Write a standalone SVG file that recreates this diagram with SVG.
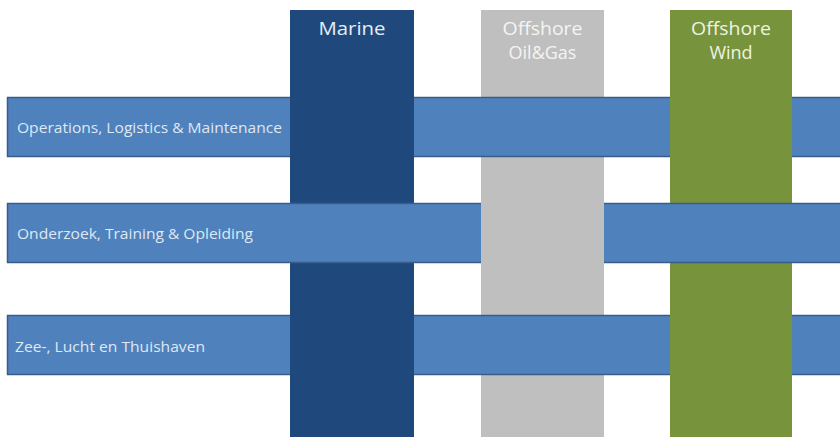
<svg xmlns="http://www.w3.org/2000/svg" width="840" height="437" viewBox="0 0 840 437">
<style>
.marine{fill:#1f497d}
.oil{fill:#bfbfbf}
.wind{fill:#77933c}
.bar{fill:#4f81bd;stroke:#385d8a;stroke-width:1.5}
.head{font-family:"Open Sans","Liberation Sans",sans-serif;font-size:18px;fill:#e6edf6;text-anchor:middle}
.lbl{font-family:"Open Sans","Liberation Sans",sans-serif;font-size:15px;fill:#dfe8f3}
</style>
<rect width="840" height="437" fill="#ffffff"/>
<g id="col-marine">
<rect class="marine" x="290" y="10" width="124" height="427"/>
<text class="head" x="352" y="35" textLength="67" lengthAdjust="spacingAndGlyphs">Marine</text>
</g>
<g id="col-oilgas">
<rect class="oil" x="481" y="10" width="123" height="427"/>
<text class="head" x="542.5" y="35" style="fill:#f4f4f4" textLength="80" lengthAdjust="spacingAndGlyphs">Offshore</text>
<text class="head" x="542.5" y="59" style="fill:#f4f4f4">Oil&amp;Gas</text>
</g>
<g id="col-wind">
<rect class="wind" x="670" y="10" width="122" height="427"/>
<text class="head" x="731" y="35" style="fill:#eef3e2" textLength="80" lengthAdjust="spacingAndGlyphs">Offshore</text>
<text class="head" x="731" y="59" style="fill:#eef3e2">Wind</text>
</g>
<g id="row-operations">
<rect class="bar" x="7.5" y="97.5" width="840" height="59"/>
<text class="lbl" x="17" y="133" textLength="265" lengthAdjust="spacingAndGlyphs">Operations, Logistics &amp; Maintenance</text>
</g>
<g id="row-onderzoek">
<rect class="bar" x="7.5" y="203.5" width="840" height="59"/>
<text class="lbl" x="17" y="239" textLength="236" lengthAdjust="spacingAndGlyphs">Onderzoek, Training &amp; Opleiding</text>
</g>
<g id="row-havens">
<rect class="bar" x="7.5" y="315.5" width="840" height="59"/>
<text class="lbl" x="15" y="352" textLength="190" lengthAdjust="spacingAndGlyphs">Zee-, Lucht en Thuishaven</text>
</g>
<g id="weave-crossings">
<rect class="marine" x="290" y="96" width="124" height="62"/>
<rect class="marine" x="290" y="314" width="124" height="62"/>
<rect class="oil" x="481" y="202" width="123" height="62"/>
<rect class="wind" x="670" y="96" width="122" height="62"/>
<rect class="wind" x="670" y="314" width="122" height="62"/>
</g>
</svg>
